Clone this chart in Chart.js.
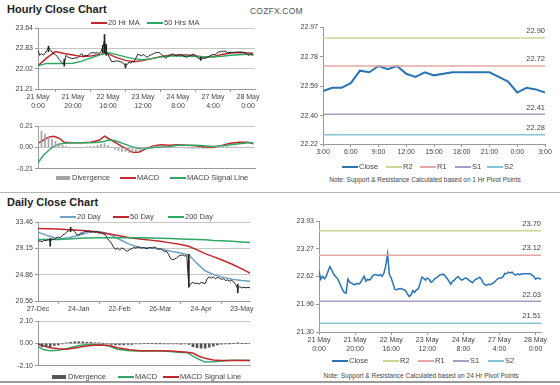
<!DOCTYPE html>
<html>
<head>
<meta charset="utf-8">
<title>Hourly and Daily Close Charts</title>
<script src="https://cdn.jsdelivr.net/npm/chart.js@4.4.1/dist/chart.umd.min.js"></script>
<style>
    body { margin: 0; background: #fff; }
    #page {
        position: relative;
        width: 560px;
        height: 385px;
        overflow: hidden;
        background: #fff;
        font-family: "Liberation Sans", Arial, sans-serif;
    }
    #page canvas { position: absolute; }
    .title { position: absolute; left: 7px; font-size: 11px; font-weight: bold; color: #222; }
    .brand { position: absolute; left: 250px; top: 6px; font-size: 8.5px; color: #555; letter-spacing: 0.2px; }
    .note { position: absolute; font-size: 6.5px; color: #444; white-space: nowrap; transform: translateX(-50%); }
    .leg {
        position: absolute;
        height: 10px;
        line-height: 10px;
        font-size: 7.5px;
        color: #444;
        white-space: nowrap;
        display: flex;
        align-items: center;
    }
    .sw { display: inline-block; margin-right: 1px; }
    .sw.line { width: 16px; height: 2px; }
    .sw.box { width: 14px; height: 4px; margin-right: 2px; }
    .rule { position: absolute; left: 0; width: 560px; }
</style>
</head>
<body>
<div id="page">
    <div class="title" style="top: 3px;">Hourly Close Chart</div>
    <div class="brand">COZFX.COM</div>
    <div class="rule" style="top: 192px; height: 1px; background: #b5b5b5;"></div>
    <div class="title" style="top: 196px;">Daily Close Chart</div>
    <div class="rule" style="top: 381px; height: 2px; background: #9a9a9a;"></div>

    <canvas id="hourlyPrice" width="262" height="115" style="left: 0; top: 0;"></canvas>
    <canvas id="hourlyMacd" width="262" height="60" style="left: 0; top: 115px;"></canvas>
    <canvas id="hourPivot" width="278" height="156" style="left: 282px; top: 14px;"></canvas>
    <canvas id="dailyPrice" width="262" height="115" style="left: 0; top: 205px;"></canvas>
    <canvas id="dailyMacd" width="262" height="60" style="left: 0; top: 312px;"></canvas>
    <canvas id="dayPivot" width="278" height="150" style="left: 282px; top: 205px;"></canvas>

    <div class="note" style="left: 425px; top: 176px;">Note: Support &amp; Resistance Calculated based on 1 Hr Pivot Points</div>
    <div class="note" style="left: 421px; top: 372px;">Note: Support &amp; Resistance Calculated based on 24 Hr Pivot Points</div>
</div>

<script>
// ---- Hourly data (21 May 0:00 .. 28 May 3:00, one close per hour) ----
const hourlyTickIdx = [0, 20, 40, 60, 80, 100, 120];
const hourlyTickLabels = [
    ['21 May', '0:00'], ['21 May', '20:00'], ['22 May', '16:00'], ['23 May', '12:00'],
    ['24 May', '8:00'], ['27 May', '4:00'], ['28 May', '0:00']
];

const hourlyClose = [
    22.75, 22.55, 22.62, 22.56, 22.62, 22.74, 22.85, 22.78, 22.68, 22.62,
    22.58, 22.50, 22.40, 22.30, 22.24, 22.22, 22.55, 22.48, 22.46, 22.43,
    22.42, 22.45, 22.44, 22.47, 22.55, 22.62, 22.50, 22.55, 22.53, 22.58,
    22.64, 22.66, 22.65, 22.64, 22.66, 22.62, 22.70, 22.88, 23.15, 22.66,
    22.58, 22.45, 22.31, 22.30, 22.32, 22.33, 22.32, 22.30, 22.28, 22.20,
    22.14, 22.18, 22.28, 22.24, 22.30, 22.32, 22.45, 22.60, 22.57, 22.53,
    22.58, 22.55, 22.48, 22.50, 22.56, 22.58, 22.62, 22.65, 22.66, 22.67,
    22.62, 22.57, 22.50, 22.43, 22.50, 22.53, 22.58, 22.61, 22.57, 22.53,
    22.55, 22.58, 22.57, 22.53, 22.50, 22.47, 22.52, 22.55, 22.57, 22.60,
    22.55, 22.46, 22.42, 22.41, 22.43, 22.42, 22.45, 22.47, 22.52,
    22.56, 22.58, 22.58, 22.61, 22.69, 22.68, 22.72, 22.70, 22.72, 22.67,
    22.65, 22.68, 22.66, 22.67, 22.68, 22.68, 22.68, 22.68, 22.68, 22.65,
    22.62, 22.55, 22.58, 22.57, 22.55
];

// candle wicks for the hours where they stick out of the close line
const hourlyWickIdx = [6, 15, 37, 38, 39, 50, 93];
const hourlyWickLow = [22.70, 22.12, 22.66, 22.64, 22.55, 22.05, 22.35];
const hourlyWickHigh = [22.92, 22.40, 22.95, 23.38, 22.98, 22.22, 22.48];

const hourlyMaIdx = [0, 5, 10, 15, 20, 25, 30, 35, 38, 40, 45, 50, 55, 60, 65, 70, 75, 80, 85, 90, 95, 100, 105, 110, 115, 120, 123];
const hourlyMa20 = [22.14, 22.45, 22.70, 22.62, 22.56, 22.50, 22.52, 22.58, 22.63, 22.61, 22.46, 22.35, 22.30, 22.34, 22.42, 22.50, 22.55, 22.56, 22.56, 22.52, 22.48, 22.50, 22.58, 22.64, 22.66, 22.64, 22.63];
const hourlyMa50 = [22.14, 22.23, 22.23, 22.23, 22.24, 22.32, 22.44, 22.56, 22.63, 22.66, 22.58, 22.49, 22.41, 22.38, 22.42, 22.48, 22.52, 22.52, 22.51, 22.50, 22.49, 22.48, 22.51, 22.55, 22.57, 22.59, 22.59];
const hourlyPriceTicks = [21.21, 22.02, 22.83, 23.64];

const hourlyMacdIdx = [0, 3, 6, 9, 12, 15, 20, 25, 30, 35, 38, 40, 43, 46, 50, 54, 58, 62, 66, 70, 75, 80, 85, 90, 95, 100, 105, 110, 115, 120, 123];
const hourlyMacd = [0.04, 0.07, 0.10, 0.11, 0.09, 0.05, 0.045, 0.045, 0.05, 0.07, 0.11, 0.09, 0.06, 0.03, -0.01, -0.05, -0.045, -0.01, 0.015, 0.025, 0.02, 0.025, 0.02, 0.015, 0.005, 0.0, 0.02, 0.04, 0.05, 0.05, 0.035];
const hourlySignal = [-0.15, -0.08, -0.03, 0.01, 0.03, 0.04, 0.045, 0.045, 0.045, 0.05, 0.06, 0.07, 0.07, 0.055, 0.03, 0.005, -0.01, -0.01, 0.0, 0.005, 0.01, 0.02, 0.02, 0.02, 0.015, 0.01, 0.015, 0.025, 0.035, 0.045, 0.045];
// divergence read every 2 hours
const hourlyDivStep = 2;
const hourlyDiv = [
    0.18, 0.16, 0.13, 0.10, 0.08, 0.06, 0.04, 0.02, 0.01, 0.0,
    0.0, 0.0, 0.0, 0.0, 0.005, 0.01, 0.01, 0.02, 0.03, 0.04,
    0.02, 0.0, -0.02, -0.03, -0.04, -0.04, -0.05, -0.05, -0.04, -0.03,
    -0.02, -0.01, 0.0, 0.01, 0.01, 0.02, 0.01, 0.01, 0.0, 0.0,
    0.0, 0.0, -0.005, -0.01, -0.01, -0.01, -0.01, -0.01, -0.01, -0.005,
    0.0, 0.01, 0.01, 0.01, 0.01, 0.005, 0.005, 0.0, 0.0, 0.0,
    0.0, -0.005
];
const hourlyMacdTicks = [-0.21, 0, 0.21];

// ---- 1 Hr pivot panel: last 24 hours (27 May 3:00 .. 28 May 3:00) ----
const pivotClose = hourlyClose.slice(-25);
const pivotTickIdx = [0, 3, 6, 9, 12, 15, 18, 21, 24];
const pivotTickLabels = ['3:00', '6:00', '9:00', '12:00', '15:00', '18:00', '21:00', '0:00', '3:00'];
const pivotHourTicks = [22.22, 22.40, 22.59, 22.78, 22.97];
const hourLevels = { R2: 22.90, R1: 22.72, S1: 22.41, S2: 22.28 };

// ---- 24 Hr pivot panel (whole week of hourly closes) ----
const pivotDayTicks = [21.30, 21.96, 22.62, 23.27, 23.93];
const dayLevels = { R2: 23.70, R1: 23.12, S1: 22.03, S2: 21.51 };

// ---- Daily data (27-Dec .. 28-May, trading days) ----
const dailyTickIdx = [0, 20, 40, 60, 80, 100];
const dailyTickLabels = ['27-Dec', '24-Jan', '22-Feb', '26-Mar', '24-Apr', '23-May'];
const dailyClose = [
    30.3, 30.4, 30.2, 30.5, 30.4, 30.6, 30.3, 30.7, 30.6, 30.9,
    31.0, 30.9, 31.3, 31.5, 31.8, 32.0, 32.3, 32.2, 31.9, 31.4,
    31.3, 31.7, 31.6, 32.0, 31.9, 32.0, 31.8, 31.9, 31.8, 31.9,
    31.6, 31.7, 31.5, 31.4, 30.8, 30.4, 30.0, 29.4, 29.0, 29.2,
    28.9, 29.2, 29.1, 28.8, 28.7, 29.0, 29.1, 29.3, 29.2, 29.4,
    29.3, 29.2, 29.3, 29.1, 29.2, 29.3, 29.2, 29.4, 29.2, 29.0,
    29.1, 28.9, 28.6, 28.7, 28.2, 27.5, 27.3, 27.4, 27.6, 27.9,
    28.0, 28.1, 27.9, 28.0, 23.0, 23.4, 23.6, 23.4, 23.5, 23.3,
    23.6, 23.5, 23.4, 24.2, 24.5, 24.3, 24.5, 24.2, 24.4, 24.3,
    24.1, 24.2, 23.9, 24.0, 23.8, 23.9, 23.7, 23.2, 22.6, 22.9,
    22.7, 22.8, 22.7, 22.8, 22.7
];
const dailyWickIdx = [6, 16, 74, 98];
const dailyWickLow = [29.5, 31.9, 22.8, 21.9];
const dailyWickHigh = [30.8, 32.6, 28.2, 23.3];

const dailyMaIdx = [0, 5, 10, 15, 20, 25, 30, 35, 40, 45, 50, 55, 60, 65, 70, 74, 78, 82, 86, 90, 95, 100, 104];
const daily20 = [31.8, 31.2, 30.7, 30.9, 31.3, 31.8, 31.9, 31.5, 30.6, 29.8, 29.3, 29.2, 29.1, 28.7, 28.4, 28.1, 26.7, 25.5, 24.9, 24.5, 24.1, 23.9, 23.8];
const daily50 = [32.4, 32.35, 32.3, 32.2, 32.1, 32.0, 31.8, 31.5, 31.2, 30.9, 30.7, 30.5, 30.3, 30.05, 29.8, 29.5, 28.9, 28.3, 27.8, 27.3, 26.6, 25.8, 25.1];
const daily200 = [30.6, 30.6, 30.6, 30.7, 30.8, 30.85, 30.9, 30.9, 30.9, 30.9, 30.9, 30.85, 30.8, 30.75, 30.7, 30.65, 30.6, 30.55, 30.45, 30.4, 30.3, 30.2, 30.1];
const dailyPriceTicks = [20.56, 24.86, 29.15, 33.46];

const dailyMacdIdx = [0, 3, 6, 10, 14, 19, 22, 26, 30, 35, 39, 45, 50, 55, 60, 65, 70, 73, 76, 79, 82, 86, 90, 95, 100, 104];
const dailyMacd = [-0.3, -0.6, -0.7, -0.65, -0.5, -0.25, -0.15, -0.1, -0.1, -0.25, -0.55, -0.7, -0.72, -0.7, -0.72, -0.75, -0.85, -0.85, -1.2, -1.5, -1.75, -1.72, -1.65, -1.58, -1.58, -1.6];
const dailySignal = [-0.05, -0.25, -0.4, -0.5, -0.55, -0.4, -0.3, -0.2, -0.15, -0.2, -0.4, -0.6, -0.68, -0.7, -0.7, -0.72, -0.78, -0.82, -0.9, -1.2, -1.4, -1.55, -1.6, -1.6, -1.6, -1.6];
const dailyDivStep = 2;
const dailyDiv = [
    -0.2, -0.3, -0.3, -0.3, -0.2, -0.15, -0.05, 0.05, 0.1, 0.15,
    0.15, 0.15, 0.1, 0.1, 0.05, 0.05, 0.0, -0.05, -0.1, -0.15,
    -0.15, -0.15, -0.1, -0.1, -0.05, -0.05, 0.0, 0.0, 0.0, -0.02,
    -0.02, -0.03, -0.03, -0.05, -0.05, -0.07, -0.05, -0.1, -0.3, -0.4,
    -0.45, -0.45, -0.35, -0.25, -0.15, -0.08, -0.04, -0.02, 0.0, 0.01,
    0.0, 0.0, 0.0
];
const dailyMacdTicks = [-2.10, 0, 2.10];

// Colours
const RED = '#c1272d';
const GREEN = '#30a765';
const CLOSE_BLUE = '#2a74b6';
const DAY20_BLUE = '#6fa3c6';
const LEVEL_COLORS = { R2: '#cfd396', R1: '#e4a6a6', S1: '#a59ec2', S2: '#86c4d6' };
const AXIS = '#9a9a9a';
const GRID = '#c6c6c6';

Chart.defaults.font.family = '"Liberation Sans", Arial, sans-serif';
Chart.defaults.font.size = 7;
Chart.defaults.color = '#444';
Chart.defaults.animation = false;
Chart.defaults.plugins.legend.display = false;
Chart.defaults.plugins.tooltip.enabled = false;
Chart.defaults.elements.point.radius = 0;
Chart.defaults.elements.line.tension = 0;

// helpers
const pts = (idx, vals) => idx.map((x, k) => ({ x: x, y: vals[k] }));
const series = vals => vals.map((y, i) => ({ x: i, y: y }));
const stepped = (step, vals) => vals.map((y, k) => ({ x: k * step, y: y }));
const ranges = (idx, lo, hi) => idx.map((x, k) => ({ x: x, y: [lo[k], hi[k]] }));

function xAxis(max, tickIdx, tickLabels, height, showLabels) {
    return {
        type: 'linear',
        min: 0,
        max: max,
        offset: false,
        afterBuildTicks: s => { s.ticks = tickIdx.map(v => ({ value: v })); },
        afterFit: s => { s.height = height; },
        ticks: {
            display: showLabels,
            autoSkip: false,
            maxRotation: 0,
            padding: 1,
            callback: (v, i) => tickLabels[i]
        },
        grid: { drawOnChartArea: false, drawTicks: showLabels, tickLength: 3, tickColor: AXIS },
        border: { color: AXIS }
    };
}

function yAxis(ticks, width, withGrid) {
    return {
        min: ticks[0],
        max: ticks[ticks.length - 1],
        afterBuildTicks: s => { s.ticks = ticks.map(v => ({ value: v })); },
        afterFit: s => { s.width = width; },
        ticks: { padding: 2, callback: v => v.toFixed(2) },
        grid: { drawOnChartArea: withGrid, color: GRID, tickLength: 3, tickColor: AXIS },
        border: { color: AXIS }
    };
}

// writes the value of each pivot level just above its line, at the right edge
const levelLabels = {
    id: 'levelLabels',
    afterDatasetsDraw(chart, args, opts) {
        const { ctx, chartArea, scales } = chart;
        ctx.save();
        ctx.font = '7.5px "Liberation Sans", Arial, sans-serif';
        ctx.fillStyle = '#444';
        ctx.textAlign = 'right';
        ctx.textBaseline = 'bottom';
        opts.levels.forEach(v => {
            ctx.fillText(v.toFixed(2), chartArea.right, scales.y.getPixelForValue(v) - 3);
        });
        ctx.restore();
    }
};

function levelSets(levels, lastIdx) {
    return Object.keys(levels).map(k => ({
        type: 'line',
        data: [{ x: 0, y: levels[k] }, { x: lastIdx, y: levels[k] }],
        borderColor: LEVEL_COLORS[k],
        borderWidth: 1.5
    }));
}

// Hourly close (candles) with MAs
new Chart(document.getElementById('hourlyPrice'), {
    type: 'line',
    data: {
        datasets: [
            { type: 'bar', data: ranges(hourlyWickIdx, hourlyWickLow, hourlyWickHigh), backgroundColor: '#222', barThickness: 1 },
            { data: series(hourlyClose), borderColor: '#222', borderWidth: 1 },
            { data: pts(hourlyMaIdx, hourlyMa50), borderColor: GREEN, borderWidth: 1.5 },
            { data: pts(hourlyMaIdx, hourlyMa20), borderColor: RED, borderWidth: 1.5 }
        ]
    },
    options: {
        responsive: false,
        layout: { padding: { top: 28, right: 7, bottom: 2, left: 0 } },
        scales: {
            x: xAxis(124, hourlyTickIdx, hourlyTickLabels, 24, true),
            y: yAxis(hourlyPriceTicks, 38, true)
        }
    }
});

// Hourly MACD
new Chart(document.getElementById('hourlyMacd'), {
    type: 'line',
    data: {
        datasets: [
            { type: 'bar', data: stepped(hourlyDivStep, hourlyDiv), backgroundColor: '#a3a3a3', barThickness: 1 },
            { data: pts(hourlyMacdIdx, hourlySignal), borderColor: GREEN, borderWidth: 1.5 },
            { data: pts(hourlyMacdIdx, hourlyMacd), borderColor: RED, borderWidth: 1.5 }
        ]
    },
    options: {
        responsive: false,
        layout: { padding: { top: 11, right: 7, bottom: 4, left: 0 } },
        scales: {
            x: xAxis(124, [], [], 0, false),
            y: yAxis(hourlyMacdTicks, 38, true)
        }
    }
});

// 1 Hr pivot points
new Chart(document.getElementById('hourPivot'), {
    type: 'line',
    data: {
        datasets: levelSets(hourLevels, 24).concat([
            { data: series(pivotClose), borderColor: CLOSE_BLUE, borderWidth: 2 }
        ])
    },
    options: {
        responsive: false,
        layout: { padding: { top: 13, right: 15, bottom: 10, left: 0 } },
        plugins: { levelLabels: { levels: Object.values(hourLevels) } },
        scales: {
            x: xAxis(24, pivotTickIdx, pivotTickLabels, 16, true),
            y: yAxis(pivotHourTicks, 41, false)
        }
    },
    plugins: [levelLabels]
});

// Daily close (candles) with MAs
new Chart(document.getElementById('dailyPrice'), {
    type: 'line',
    data: {
        datasets: [
            { type: 'bar', data: ranges(dailyWickIdx, dailyWickLow, dailyWickHigh), backgroundColor: '#222', barThickness: 1 },
            { data: series(dailyClose), borderColor: '#222', borderWidth: 1 },
            { data: pts(dailyMaIdx, daily200), borderColor: GREEN, borderWidth: 1.5 },
            { data: pts(dailyMaIdx, daily50), borderColor: RED, borderWidth: 1.5 },
            { data: pts(dailyMaIdx, daily20), borderColor: DAY20_BLUE, borderWidth: 1.5 }
        ]
    },
    options: {
        responsive: false,
        layout: { padding: { top: 17, right: 12, bottom: 5, left: 0 } },
        scales: {
            x: xAxis(104, dailyTickIdx, dailyTickLabels, 14, true),
            y: yAxis(dailyPriceTicks, 38, true)
        }
    }
});

// Daily MACD
new Chart(document.getElementById('dailyMacd'), {
    type: 'line',
    data: {
        datasets: [
            { type: 'bar', data: stepped(dailyDivStep, dailyDiv), backgroundColor: '#555', barThickness: 2 },
            { data: pts(dailyMacdIdx, dailySignal), borderColor: RED, borderWidth: 1.5 },
            { data: pts(dailyMacdIdx, dailyMacd), borderColor: GREEN, borderWidth: 1.5 }
        ]
    },
    options: {
        responsive: false,
        layout: { padding: { top: 9, right: 12, bottom: 5, left: 0 } },
        scales: {
            x: xAxis(104, [], [], 0, false),
            y: yAxis(dailyMacdTicks, 38, true)
        }
    }
});

// 24 Hr pivot points
new Chart(document.getElementById('dayPivot'), {
    type: 'line',
    data: {
        datasets: levelSets(dayLevels, 123).concat([
            { data: series(hourlyClose), borderColor: CLOSE_BLUE, borderWidth: 1.5 }
        ])
    },
    options: {
        responsive: false,
        layout: { padding: { top: 16, right: 19, bottom: 1, left: 0 } },
        plugins: { levelLabels: { levels: Object.values(dayLevels) } },
        scales: {
            x: xAxis(123, hourlyTickIdx, hourlyTickLabels, 22, true),
            y: yAxis(pivotDayTicks, 37, false)
        }
    },
    plugins: [levelLabels]
});

// Legends
const page = document.getElementById('page');
function addLegend(top, items) {
    items.forEach(([left, kind, color, text, thick]) => {
        const el = document.createElement('div');
        el.className = 'leg';
        el.style.left = left + 'px';
        el.style.top = (top - 5) + 'px';
        const sw = document.createElement('span');
        sw.className = 'sw ' + kind;
        sw.style.background = color;
        if (thick) sw.style.height = thick + 'px';
        el.appendChild(sw);
        el.appendChild(document.createTextNode(text));
        page.appendChild(el);
    });
}

addLegend(23, [[91, 'line', RED, '20 Hr MA'], [147, 'line', GREEN, '50 Hrs MA']]);
addLegend(178, [[56, 'box', '#a3a3a3', 'Divergence'], [120, 'line', RED, 'MACD'], [170, 'line', GREEN, 'MACD Signal Line']]);
addLegend(167, [
    [342, 'line', CLOSE_BLUE, 'Close', 2.5], [386, 'line', LEVEL_COLORS.R2, 'R2'],
    [420, 'line', LEVEL_COLORS.R1, 'R1'], [455, 'line', LEVEL_COLORS.S1, 'S1'], [487, 'line', LEVEL_COLORS.S2, 'S2']
]);
addLegend(217, [[60, 'line', DAY20_BLUE, '20 Day'], [113, 'line', RED, '50 Day'], [168, 'line', GREEN, '200 Day']]);
addLegend(377, [[52, 'box', '#555', 'Divergence'], [118, 'line', GREEN, 'MACD'], [163, 'line', RED, 'MACD Signal Line']]);
addLegend(361, [
    [332, 'line', CLOSE_BLUE, 'Close', 2.5], [383, 'line', LEVEL_COLORS.R2, 'R2'],
    [418, 'line', LEVEL_COLORS.R1, 'R1'], [453, 'line', LEVEL_COLORS.S1, 'S1'], [488, 'line', LEVEL_COLORS.S2, 'S2']
]);
</script>
</body>
</html>
